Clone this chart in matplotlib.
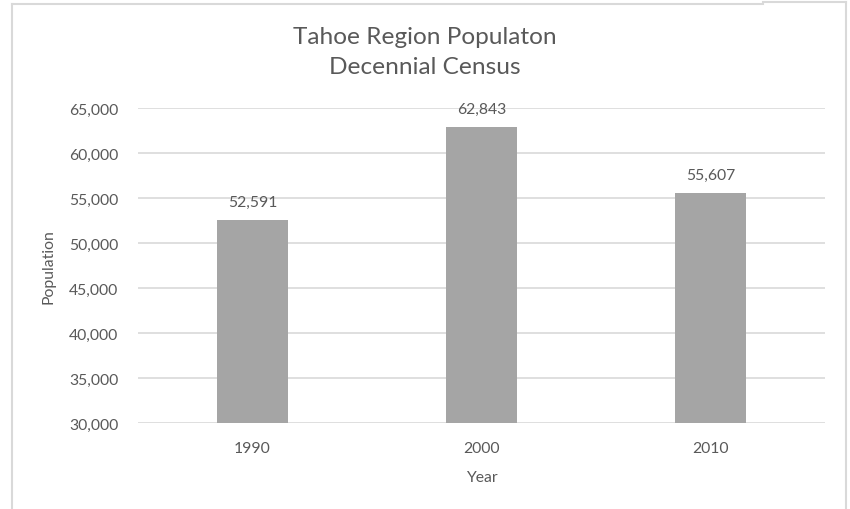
import matplotlib
matplotlib.use("Agg")
import matplotlib.pyplot as plt
from matplotlib.lines import Line2D
from matplotlib.ticker import FuncFormatter

years = ["1990", "2000", "2010"]
population = [52591, 62843, 55607]
y_ticks = [30000, 35000, 40000, 45000, 50000, 55000, 60000, 65000]

plt.rcParams["font.family"] = ["Lato", "DejaVu Sans"]
text_color = "#595959"
grid_color = "#d9d9d9"
bar_color = "#a5a5a5"

fig = plt.figure(figsize=(8.5, 5.1), dpi=100)
ax = fig.add_axes([138 / 850, 1 - 424 / 510, (825 - 138) / 850, (424 - 109) / 510])

x = range(len(years))
bars = ax.bar(x, population, width=0.31, color=bar_color, zorder=3)

ax.set_ylim(30000, 65000)
ax.set_xlim(-0.5, len(years) - 0.5)
ax.set_yticks(y_ticks)
ax.yaxis.set_major_formatter(FuncFormatter(lambda v, p: f"{int(v):,}"))
ax.set_xticks(list(x))
ax.set_xticklabels(years)
ax.grid(axis="y", color=grid_color, linewidth=1.2, zorder=0)
for s in ax.spines.values():
    s.set_visible(False)
ax.tick_params(length=0, labelsize=11.3, colors=text_color)
ax.tick_params(axis="y", pad=14)
ax.tick_params(axis="x", pad=13)

for xi, val in zip(x, population):
    ax.annotate(f"{val:,}", (xi, val), xytext=(0, 8), textcoords="offset points",
                ha="center", va="bottom", fontsize=11.3, color=text_color)

ax.set_ylabel("Population", fontsize=11.3, color=text_color, labelpad=10)
ax.set_xlabel("Year", fontsize=11.3, color=text_color, labelpad=11)

fig.text(0.5, 1 - 38 / 510, "Tahoe Region Populaton", ha="center", va="center",
         fontsize=17.6, color=text_color)
fig.text(0.5, 1 - 67 / 510, "Decennial Census", ha="center", va="center",
         fontsize=17.6, color=text_color)

# chart frame
lw = 1.5
frame = dict(color=grid_color, linewidth=lw, transform=fig.transFigure)
fig.add_artist(Line2D([12 / 850, 12 / 850], [0, 1 - 4.5 / 510], **frame))
fig.add_artist(Line2D([12 / 850, 763 / 850], [1 - 4.5 / 510] * 2, **frame))
fig.add_artist(Line2D([763 / 850, 846 / 850], [1 - 3.3 / 510] * 2, **frame))
fig.add_artist(Line2D([846 / 850, 846 / 850], [0, 1 - 3.3 / 510], **frame))

fig.savefig("out.png", dpi=100)
